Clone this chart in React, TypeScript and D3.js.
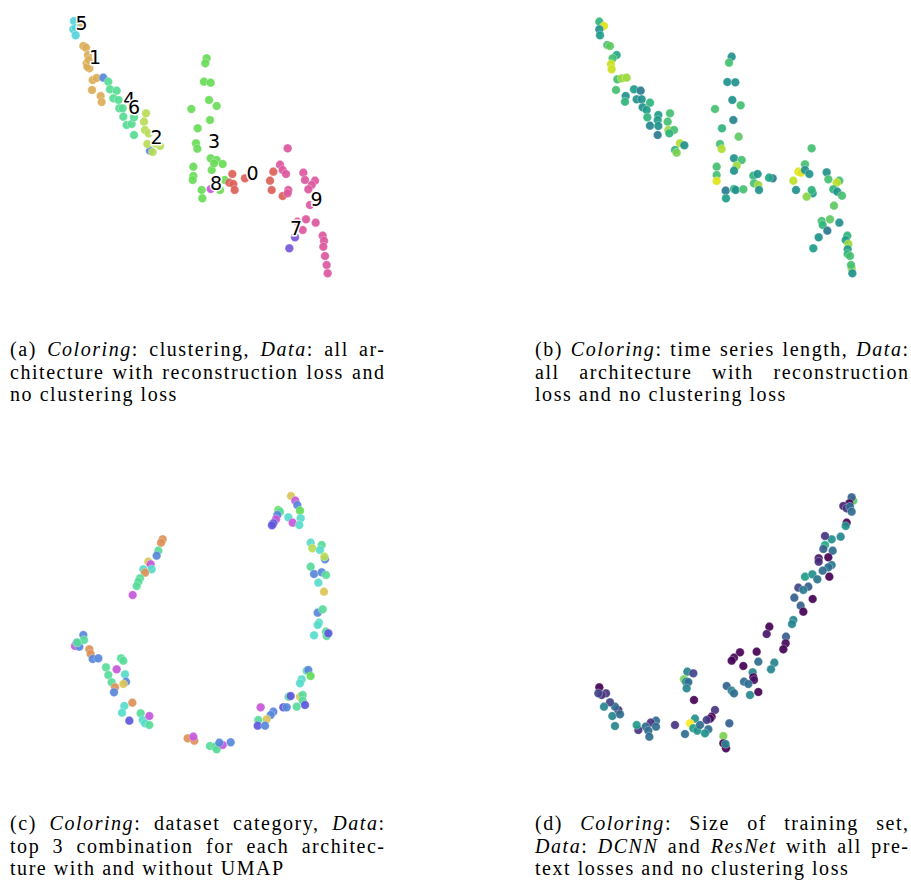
import React from "react";
import * as d3 from "d3";

type P = [number, number, number];
type Seg = [string, boolean];

// ---------- Panel (a): clustering (UMAP embedding coords) ----------
const clusterHues = [3.6, 39.6, 75.6, 111.6, 147.6, 183.6, 219.6, 255.6, 291.6, 327.6];
const clusteringPoints: P[] = [
  [62, 75, 1], [42, 63, 5], [40, 88, 5], [47, 84, 5], [47, 106, 5],
  [70, 138, 1], [78, 143, 1], [84, 165, 1], [80, 190, 1], [88, 205, 1], [82, 200, 1], [86, 180, 1],
  [98, 240, 1], [110, 234, 1], [96, 270, 1], [122, 288, 1], [125, 306, 1],
  [130, 233, 6], [270, 452, 6],
  [145, 245, 4], [150, 268, 4], [170, 272, 4], [160, 295, 4], [176, 300, 4], [178, 325, 4], [188, 325, 4],
  [190, 350, 4], [200, 375, 4], [215, 372, 4], [222, 405, 4], [222, 352, 4],
  [258, 340, 2], [252, 365, 2], [255, 390, 2], [266, 400, 2], [262, 432, 2], [278, 456, 2], [300, 438, 2], [286, 430, 2],
  [440, 175, 3], [436, 190, 3], [432, 245, 3], [452, 248, 3], [447, 300, 3], [470, 318, 3], [394, 327, 3],
  [450, 360, 3], [413, 385, 3], [408, 430, 3], [412, 446, 3], [452, 475, 3], [470, 480, 3], [488, 492, 3],
  [455, 510, 3], [400, 500, 3], [400, 528, 3], [398, 540, 3], [425, 570, 3], [427, 595, 3], [480, 570, 3],
  [494, 540, 3], [462, 490, 3],
  [452, 567, 8],
  [517, 522, 0], [508, 548, 0], [520, 552, 0], [524, 570, 0], [555, 535, 0], [640, 515, 0], [630, 542, 0],
  [635, 570, 0], [668, 588, 0],
  [683, 445, 9], [660, 494, 9], [668, 510, 9], [678, 522, 9], [685, 570, 9], [683, 580, 9], [730, 518, 9],
  [735, 540, 9], [765, 542, 9], [755, 555, 9], [745, 568, 9], [750, 615, 9], [738, 658, 9], [767, 668, 9],
  [728, 690, 9], [712, 665, 9], [788, 707, 9], [792, 722, 9], [790, 740, 9], [795, 768, 9], [800, 795, 9],
  [803, 820, 9],
  [705, 712, 7], [688, 745, 7],
];
const clusterLabels: [string, number, number][] = [
  ["5", 65, 68], ["1", 105, 170], ["4", 208, 298], ["6", 222, 322], ["2", 290, 410],
  ["3", 462, 422], ["8", 468, 548], ["0", 578, 518], ["9", 770, 597], ["7", 708, 685],
];

// ---------- Panel (b): time series length (normalised 0..1) ----------
const lengthPoints: P[] = [
  [58, 65, 0.65], [72, 78, 0.95], [58, 88, 0.5], [60, 106, 0.55], [82, 135, 0.7], [90, 138, 0.75],
  [110, 165, 0.6], [98, 175, 0.7], [93, 192, 0.92], [95, 208, 0.92], [112, 238, 0.7], [125, 235, 0.85],
  [140, 233, 0.85], [108, 270, 0.7], [162, 268, 0.55], [182, 272, 0.4], [137, 288, 0.5], [170, 298, 0.5],
  [185, 298, 0.5], [135, 305, 0.65], [210, 308, 0.65], [188, 322, 0.5], [200, 330, 0.55], [235, 345, 0.55],
  [202, 352, 0.65], [270, 340, 0.7], [233, 360, 0.55], [263, 365, 0.7], [210, 377, 0.45], [235, 378, 0.5],
  [265, 390, 0.85], [282, 390, 0.7], [268, 400, 0.65], [233, 405, 0.4], [300, 430, 0.88], [313, 436, 0.5],
  [285, 450, 0.65], [290, 458, 0.8],
  [455, 170, 0.5], [447, 188, 0.7], [442, 246, 0.5], [466, 247, 0.5], [457, 300, 0.5], [482, 316, 0.7],
  [405, 327, 0.7], [460, 360, 0.45], [426, 385, 0.65], [476, 410, 0.75], [420, 432, 0.7], [425, 447, 0.88],
  [462, 475, 0.5], [485, 480, 0.7], [470, 497, 0.85], [462, 512, 0.5], [410, 500, 0.7], [410, 525, 0.7],
  [410, 543, 0.95], [437, 572, 0.4], [462, 567, 0.65], [467, 570, 0.5], [490, 568, 0.7], [438, 595, 0.55],
  [520, 527, 0.65], [533, 522, 0.5], [522, 550, 0.7], [535, 555, 0.85], [537, 570, 0.5], [578, 535, 0.4],
  [567, 533, 0.6],
  [695, 445, 0.7], [675, 493, 0.7], [655, 515, 0.95], [663, 518, 0.95], [675, 510, 0.5], [688, 522, 0.5],
  [640, 542, 0.9], [648, 570, 0.5], [698, 580, 0.55], [695, 570, 0.65], [680, 590, 0.82], [740, 517, 0.5],
  [745, 538, 0.7], [778, 542, 0.7], [770, 548, 0.9], [760, 568, 0.65], [772, 575, 0.5], [786, 587, 0.7],
  [762, 617, 0.75], [725, 663, 0.7], [728, 675, 0.65], [750, 658, 0.75], [778, 668, 0.5], [742, 692, 0.4],
  [716, 712, 0.5], [700, 745, 0.55], [802, 707, 0.65], [797, 720, 0.55], [805, 732, 0.85], [803, 748, 0.55],
  [803, 762, 0.65], [810, 768, 0.7], [815, 805, 0.85], [813, 795, 0.7], [817, 820, 0.5],
];

// ---------- Panel (c): dataset category ----------
const categoryHues = [26, 50, 76, 115, 150, 172, 218, 243, 290];
const categoryPoints: P[] = [
  [693, 48, 1], [706, 62, 8], [712, 75, 6], [655, 90, 3], [660, 95, 4], [720, 92, 3], [652, 105, 6],
  [648, 118, 8], [640, 130, 7], [636, 136, 7], [685, 112, 5], [698, 128, 8], [722, 115, 5], [718, 135, 5],
  [752, 188, 5], [757, 205, 2], [785, 195, 4], [780, 210, 5], [795, 238, 6], [793, 230, 2],
  [752, 260, 4], [762, 282, 6], [785, 277, 6], [798, 285, 4], [775, 308, 5], [792, 335, 1],
  [773, 398, 6], [788, 388, 4], [777, 428, 5], [773, 435, 5], [762, 466, 5], [798, 455, 4], [800, 468, 4],
  [805, 460, 7],
  [740, 572, 4], [745, 570, 6], [752, 588, 3], [725, 598, 5], [720, 610, 5], [686, 650, 4], [692, 648, 7],
  [720, 650, 1], [728, 645, 4], [728, 662, 4], [735, 675, 7], [710, 680, 4], [670, 682, 7], [680, 682, 6],
  [602, 682, 8], [640, 695, 6], [632, 705, 6], [620, 718, 1], [595, 720, 4], [593, 737, 7], [615, 737, 6],
  [383, 775, 0], [403, 782, 0], [400, 770, 8], [450, 798, 4], [465, 800, 4], [470, 808, 4], [488, 795, 8],
  [478, 788, 6], [512, 787, 6],
  [217, 668, 0], [193, 678, 5], [186, 698, 5], [208, 722, 7], [242, 700, 4], [248, 720, 5], [255, 730, 5],
  [268, 735, 4], [268, 708, 8],
  [45, 498, 8], [50, 488, 6], [58, 500, 6], [70, 465, 6], [72, 480, 4], [52, 488, 4], [88, 508, 0],
  [92, 522, 0], [98, 537, 6], [115, 535, 6], [183, 535, 4], [190, 542, 4], [138, 562, 4], [170, 568, 8],
  [145, 585, 4], [195, 583, 5], [198, 605, 6], [190, 612, 1], [155, 607, 4], [165, 622, 0], [162, 637, 6],
  [308, 178, 0], [303, 188, 0], [295, 212, 4], [290, 227, 6], [265, 245, 1], [272, 253, 8], [275, 268, 5],
  [250, 268, 5], [255, 278, 0], [240, 295, 4], [235, 305, 4], [230, 318, 4], [218, 345, 8],
];

// ---------- Panel (d): size of training set (normalised 0..1) ----------
const trainSizePoints: P[] = [
  [820, 62, 0.75], [815, 52, 0.3], [808, 70, 0.0], [790, 78, 0.1], [800, 85, 0.15], [810, 80, 0.35],
  [815, 95, 0.35], [800, 128, 0.0], [797, 138, 0.5], [782, 170, 0.45], [755, 178, 0.5], [735, 168, 0.15],
  [735, 195, 0.6], [730, 207, 0.3], [758, 212, 0.35], [745, 232, 0.0], [716, 235, 0.05], [716, 245, 0.12],
  [755, 255, 0.4], [745, 262, 0.35], [728, 272, 0.35], [748, 290, 0.0], [675, 290, 0.55], [697, 283, 0.5],
  [712, 298, 0.38], [685, 320, 0.3], [655, 323, 0.2], [670, 330, 0.42], [698, 357, 0.0], [643, 353, 0.3],
  [662, 377, 0.3], [670, 395, 0.0], [640, 420, 0.45], [636, 432, 0.45], [568, 440, 0.0], [560, 462, 0.05],
  [618, 470, 0.3], [617, 490, 0.02], [610, 508, 0.0], [583, 548, 0.45], [573, 568, 0.45], [480, 517, 0.0],
  [462, 533, 0.02], [455, 542, 0.0], [530, 515, 0.0], [535, 545, 0.35], [490, 558, 0.0], [518, 577, 0.45],
  [520, 592, 0.0], [522, 600, 0.05], [492, 605, 0.35], [505, 612, 0.35], [440, 618, 0.3], [455, 632, 0.45],
  [462, 640, 0.35], [510, 645, 0.45], [535, 636, 0.0],
  [322, 575, 0.45], [340, 580, 0.2], [312, 598, 0.8], [318, 605, 0.45], [325, 606, 0.35], [320, 625, 0.45],
  [342, 660, 0.0], [405, 690, 0.15], [395, 710, 0.0], [390, 716, 0.02], [380, 720, 0.18], [448, 730, 0.3],
  [345, 716, 0.5], [330, 730, 1.0], [340, 745, 0.55], [352, 752, 0.5], [360, 735, 0.35], [385, 748, 0.35],
  [375, 760, 0.5], [315, 762, 0.35], [430, 768, 0.8], [430, 790, 0.0], [438, 805, 0.0], [437, 792, 0.45],
  [285, 735, 0.15], [228, 722, 0.35], [212, 728, 0.15], [228, 740, 0.35], [197, 740, 0.35], [205, 752, 0.35],
  [175, 750, 0.15], [170, 735, 0.55], [208, 770, 0.35],
  [105, 738, 0.45], [97, 708, 0.45], [115, 690, 0.12], [120, 703, 0.35], [105, 680, 0.35], [90, 667, 0.2],
  [72, 680, 0.45], [58, 622, 0.0], [78, 640, 0.15], [65, 645, 0.15], [55, 640, 0.2],
];

// ---------- Captions ----------
const captionA: Seg[][] = [
  [["(a) ", false], ["Coloring", true], [": clustering, ", false], ["Data", true], [": all ar-", false]],
  [["chitecture with reconstruction loss and", false]],
  [["no clustering loss", false]],
];
const captionB: Seg[][] = [
  [["(b) ", false], ["Coloring", true], [": time series length, ", false], ["Data", true], [":", false]],
  [["all architecture with reconstruction", false]],
  [["loss and no clustering loss", false]],
];
const captionC: Seg[][] = [
  [["(c) ", false], ["Coloring", true], [": dataset category, ", false], ["Data", true], [":", false]],
  [["top 3 combination for each architec-", false]],
  [["ture with and without UMAP", false]],
];
const captionD: Seg[][] = [
  [["(d) ", false], ["Coloring", true], [": Size of training set,", false]],
  [["Data", true], [": ", false], ["DCNN", true], [" and ", false], ["ResNet", true], [" with all pre-", false]],
  [["text losses and no clustering loss", false]],
];

const SERIF = '"Liberation Serif", "Times New Roman", serif';
const FS = 20;
const LS = 1.55;
let ctxCache: CanvasRenderingContext2D | null = null;
function measure(text: string, italic: boolean) {
  if (!ctxCache) ctxCache = document.createElement("canvas").getContext("2d");
  const ctx = ctxCache!;
  ctx.font = `${italic ? "italic " : ""}${FS}px ${SERIF}`;
  return ctx.measureText(text).width + LS * text.length;
}

function Caption({ x, y, width, lines }: { x: number; y: number; width: number; lines: Seg[][] }) {
  const lh = 22.6;
  const out: React.ReactNode[] = [];
  lines.forEach((line, li) => {
    const words: Seg[][] = [[]];
    line.forEach(([t, it]) => {
      t.split(" ").forEach((part, k) => {
        if (k > 0) words.push([]);
        if (part) words[words.length - 1].push([part, it]);
      });
    });
    const ws = words.filter((w) => w.length > 0);
    const widths = ws.map((w) => w.reduce((s, [t, it]) => s + measure(t, it), 0));
    const total = widths.reduce((a, b) => a + b, 0) - LS;
    const last = li === lines.length - 1;
    const gap = last ? measure(" ", false) : (width - total) / Math.max(1, ws.length - 1);
    let cx = x;
    ws.forEach((w, wi) => {
      out.push(
        <text key={`${li}-${wi}`} x={cx} y={y + li * lh} fontFamily={SERIF} fontSize={FS} fill="#000"
          letterSpacing={LS}>
          {w.map(([t, it], si) => (
            <tspan key={si} fontStyle={it ? "italic" : "normal"}>{t}</tspan>
          ))}
        </text>
      );
      cx += widths[wi] + gap;
    });
  });
  return <g>{out}</g>;
}

function Scatter({ ox, oy, points, color, labels }: {
  ox: number; oy: number; points: P[]; color: (v: number) => string; labels?: [string, number, number][];
}) {
  const sx = d3.scaleLinear().domain([0, 870]).range([ox, ox + 290]);
  const sy = d3.scaleLinear().domain([0, 870]).range([oy, oy + 290]);
  return (
    <g>
      {points.map(([x, y, v], i) => (
        <circle key={i} cx={sx(x)} cy={sy(y)} r={4.3} fill={color(v)} fillOpacity={0.92}
          stroke="#fff" strokeOpacity={0.6} strokeWidth={0.5} />
      ))}
      {labels && labels.map(([t, x, y], i) => (
        <text key={"l" + i} x={sx(x)} y={sy(y)} textAnchor="middle" dominantBaseline="central"
          fontFamily='"DejaVu Sans", sans-serif' fontSize={19} fill="#000" stroke="#fff" strokeWidth={3}
          style={{ paintOrder: "stroke" }}>{t}</text>
      ))}
    </g>
  );
}

export default function App() {
  const hlsA = (c: number) => d3.hsl(clusterHues[c], 0.65, 0.6).formatHex();
  const hlsC = (c: number) => d3.hsl(categoryHues[c], 0.65, 0.6).formatHex();
  const vir = (v: number) => d3.interpolateViridis(v);
  return (
    <svg width={911} height={881} style={{ position: "absolute", left: 0, top: 0, background: "#fff" }}>
      <rect width={911} height={881} fill="#fff" />
      <Scatter ox={60} oy={0} points={clusteringPoints} color={hlsA} labels={clusterLabels} />
      <Scatter ox={580} oy={0} points={lengthPoints} color={vir} />
      <Scatter ox={60} oy={480} points={categoryPoints} color={hlsC} />
      <Scatter ox={580} oy={480} points={trainSizePoints} color={vir} />
      <Caption x={10} y={356} width={374} lines={captionA} />
      <Caption x={535} y={356} width={373} lines={captionB} />
      <Caption x={10} y={830} width={374} lines={captionC} />
      <Caption x={535} y={830} width={373} lines={captionD} />
    </svg>
  );
}
